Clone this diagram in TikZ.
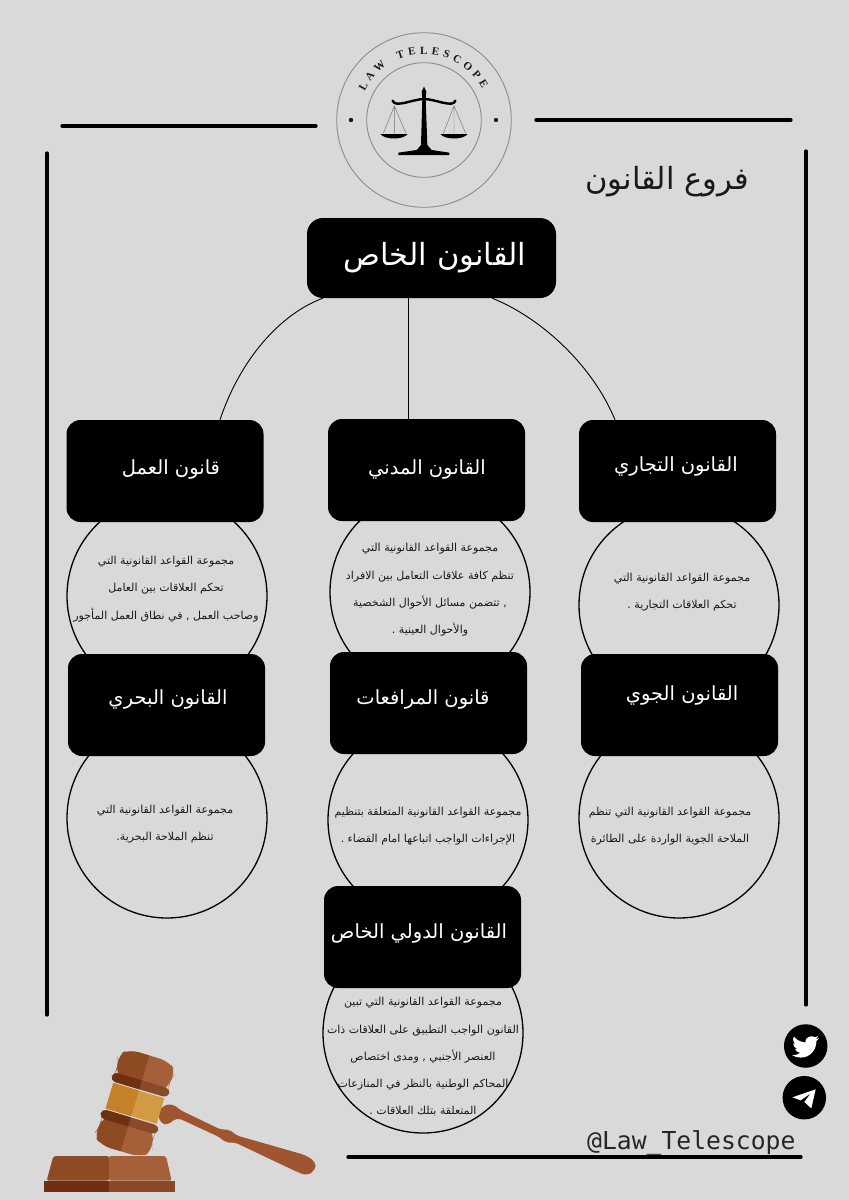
\documentclass[tikz,border=0pt]{standalone}
\usepackage{fontspec}
\usetikzlibrary{calc,decorations.text}
\TeXXeTstate=1
\newfontfamily\arabicfont[Script=Arabic]{DejaVu Sans}
\newfontfamily\handlefont{DejaVu Sans Mono}
\newfontfamily\logofont{Liberation Serif}
\newcommand{\ar}[1]{\beginR #1\endR}
\newcommand{\capshape}[1]{(-60,#1*150) -- (60,#1*150) -- (93,#1*125) -- (78,#1*95) -- (85,#1*65) -- (-85,#1*65) -- (-78,#1*95) -- (-93,#1*125) -- cycle}
\newcommand{\bandshape}[1]{(-90,#1*72) -- (90,#1*72) -- (90,#1*44) -- (-90,#1*44) -- cycle}
\definecolor{bgc}{HTML}{D9D9D9}
\definecolor{brA}{HTML}{8E4A22}
\definecolor{brB}{HTML}{A5603A}
\definecolor{brC}{HTML}{6F2F10}
\definecolor{brD}{HTML}{8A4A2A}
\definecolor{goA}{HTML}{C4812A}
\definecolor{goB}{HTML}{D29A42}
\definecolor{hnd}{HTML}{9E5530}
\tikzset{
  blackbox/.style={fill=black,rounded corners=14pt,minimum width=197pt,minimum height=102pt,inner sep=0pt},
  bubble/.style={circle,draw=black,line width=1.3pt,minimum size=200pt,inner sep=0pt},
  boxlabel/.style={text=white,inner sep=0pt,font=\arabicfont\fontsize{19.5}{22}\selectfont},
  bodytext/.style={text=black!90,inner sep=0pt,align=center,font=\arabicfont\fontsize{11}{27.3}\selectfont},
  rule/.style={line width=3.2pt,line cap=round,draw=black},
  branch/.style={line width=.9pt,draw=black}
}
\begin{document}
\begin{tikzpicture}[x=1pt,y=-1pt]
\useasboundingbox (0,0) rectangle (849,1200);
\fill[bgc] (0,0) rectangle (849,1200);
% frame
\coordinate (ltA) at (62,126); \coordinate (ltB) at (316,126);
\coordinate (rtA) at (536,120); \coordinate (rtB) at (791,120);
\coordinate (lvA) at (47,153); \coordinate (lvB) at (47,1015);
\coordinate (rvA) at (806,151); \coordinate (rvB) at (806,1005);
\coordinate (bhA) at (348,1157); \coordinate (bhB) at (801,1157);
\draw[rule] (ltA) -- (ltB);
\draw[rule] (rtA) -- (rtB);
\draw[rule] (lvA) -- (lvB);
\draw[rule] (rvA) -- (rvB);
\draw[rule] (bhA) -- (bhB);
% logo
\node[circle,draw=black!45,line width=.9pt,minimum size=174.6pt,inner sep=0pt] (logoouter) at (424,120) {};
\node[circle,draw=black!45,line width=.9pt,minimum size=114.6pt,inner sep=0pt] (logoinner) at (424,120) {};
\fill[black!90] (351,120) circle (2.2pt) (496,120) circle (2.2pt);
\path[decorate,decoration={text along path,text align={fit to path},
  text={|\logofont\bfseries\fontsize{11}{11}\selectfont\color{black!90}|LAW}}]
  (424,120) ++(154:66pt) arc[start angle=154,end angle=125,radius=66pt];
\path[decorate,decoration={text along path,text align={fit to path},
  text={|\logofont\bfseries\fontsize{11}{11}\selectfont\color{black!90}|TELESCOPE}}]
  (424,120) ++(113:66pt) arc[start angle=113,end angle=28,radius=66pt];
\begin{scope}[shift={(300,0)},scale=1/3]
  \fill[black] (372,260) -- (379,275) -- (377,295) -- (382,435) -- (395,450) -- (448,458) -- (448,465) -- (295,465) -- (295,458) -- (350,450) -- (363,435) -- (367,295) -- (365,275) -- cycle;
  \draw[black,line width=2.4pt] (278,302) .. controls (285,325) and (340,297) .. (372,297) .. controls (405,297) and (460,325) .. (466,302);
  \fill[black] (278,302) circle (3.4pt) (466,302) circle (3.4pt);
  \draw[black!55,line width=.45pt] (250,400) -- (283,318) -- (318,400) (283,318) -- (283,400) (430,400) -- (462,318) -- (497,400) (462,318) -- (462,400);
  \fill[black] (241,402) -- (323,402) .. controls (310,420) and (255,420) .. cycle;
  \fill[black] (421,402) -- (503,402) .. controls (490,420) and (435,420) .. cycle;
\end{scope}
% title
\node[inner sep=0pt,text=black!90,font=\arabicfont\fontsize{30.5}{34}\selectfont] (title) at (667,182) {\ar{فروع القانون}};
% circles
\node[bubble] (cLabor) at (167,596) {};
\node[bubble] (cCivil) at (430,592) {};
\node[bubble] (cComm) at (679,605) {};
\node[bubble] (cAir) at (679,818) {};
\node[bubble] (cSea) at (167,818) {};
\node[bubble] (cProc) at (428,820) {};
\node[bubble] (cIntl) at (423,1033) {};
% boxes
\node[blackbox,rounded corners=16pt,minimum width=249pt,minimum height=80pt] (top) at (431.5,258) {};
\node[blackbox] (labor) at (165,471) {};
\node[blackbox] (civil) at (426.5,470) {};
\node[blackbox] (comm) at (677.5,471) {};
\node[blackbox] (air) at (679.5,705) {};
\node[blackbox] (sea) at (166.5,705) {};
\node[blackbox] (proc) at (428.5,703) {};
\node[blackbox] (intl) at (422.5,937) {};
% branches
\draw[branch] ($(top.south west)+(16,0)$) .. controls ($(top.south west)+(-27,16)$) and ($(labor.north)+(75,-60)$) .. ($(labor.north)+(55,0)$);
\draw[branch] ($(top.south)+(-23.5,0)$) -- ($(civil.north)+(-18.5,0)$);
\draw[branch] ($(top.south east)+(-64,0)$) .. controls ($(top.south east)+(-21,17)$) and ($(comm.north)+(-87.5,-60)$) .. ($(comm.north)+(-62.5,0)$);
% box labels
\node[boxlabel,font=\arabicfont\fontsize{30.5}{34}\selectfont] (topL) at (435,258) {\ar{القانون الخاص}};
\node[boxlabel] (laborL) at (171,469.5) {\ar{قانون العمل}};
\node[boxlabel] (civilL) at (427,469.5) {\ar{القانون المدني}};
\node[boxlabel] (commL) at (676,466.5) {\ar{القانون التجاري}};
\node[boxlabel] (airL) at (682,695.5) {\ar{القانون الجوي}};
\node[boxlabel] (seaL) at (168,699.5) {\ar{القانون البحري}};
\node[boxlabel] (procL) at (423,699.5) {\ar{قانون المرافعات}};
\node[boxlabel] (intlL) at (419,933.5) {\ar{القانون الدولي الخاص}};
% texts
\node[bodytext] (tLabor) at (166,589) {\ar{مجموعة القواعد القانونية التي}\\\ar{تحكم العلاقات بين العامل}\\\ar{وصاحب العمل , في نطاق العمل المأجور}};
\node[bodytext] (tCivil) at (430,590) {\ar{مجموعة القواعد القانونية التي}\\\ar{تنظم كافة علاقات التعامل بين الافراد}\\\ar{, تتضمن مسائل الأحوال الشخصية}\\\ar{والأحوال العينية .}};
\node[bodytext] (tComm) at (682,592.5) {\ar{مجموعة القواعد القانونية التي}\\\ar{تحكم العلاقات التجارية .}};
\node[bodytext] (tAir) at (670,826) {\ar{مجموعة القواعد القانونية التي تنظم}\\\ar{الملاحة الجوية الواردة على الطائرة}};
\node[bodytext] (tSea) at (165,824.5) {\ar{مجموعة القواعد القانونية التي}\\\ar{تنظم الملاحة البحرية.}};
\node[bodytext] (tProc) at (428,826) {\ar{مجموعة القواعد القانونية المتعلقة بتنظيم}\\\ar{الإجراءات الواجب اتباعها امام القضاء .}};
\node[bodytext] (tIntl) at (423,1057) {\ar{مجموعة القواعد القانونية التي تبين}\\\ar{القانون الواجب التطبيق على العلاقات ذات}\\\ar{العنصر الأجنبي , ومدى اختصاص}\\\ar{المحاكم الوطنية بالنظر في المنازعات}\\\ar{المتعلقة بتلك العلاقات .}};
% social
\node[circle,fill=black,minimum size=43.5pt,inner sep=0pt] (twitter) at (805.7,1046) {};
\node[circle,fill=black,minimum size=43.5pt,inner sep=0pt] (telegram) at (804.3,1097.7) {};
\begin{scope}[shift={(792,1033)},scale=1.13]
\fill[white] (23.95,4.57) -- (21.13,5.35) -- (23.29,2.62) -- (20.16,3.8) .. controls (18,1.5) and (11,3.5) .. (11.78,8.29) .. controls (7.69,8.1) and (4.07,6.13) .. (1.64,3.16) -- (.97,5.64) .. controls (.97,7.35) and (1.84,8.85) .. (3.16,9.73) -- (.93,9.12) -- (.93,9.18) .. controls (.93,11.5) and (2.6,13.5) .. (4.88,14) -- (2.67,14.09) .. controls (3.3,16) and (5.1,17.4) .. (7.27,17.5) .. controls (5.6,18.8) and (3.5,19.6) .. (1.17,19.6) -- (0,19.54) .. controls (2.2,20.9) and (4.8,21.75) .. (7.56,21.75) .. controls (16.6,21.75) and (21.55,14.25) .. (21.55,7.76) -- (21.54,7.13) -- (24,4.59) -- cycle;
\end{scope}
\begin{scope}[shift={(570,1010)},scale=1/3]
\fill[white] (737,238) -- (667,262) -- (692,271) -- (722,250) -- (703,276) -- (724,295) -- cycle;
\end{scope}
% handle
\node[inner sep=0pt,anchor=base west,text=black!85,font=\handlefont\fontsize{24.7}{26}\selectfont] (handle) at (587,1149) {@Law\_Telescope};
% gavel
\begin{scope}[shift={(30,1030)},scale=1/3]
\fill[hnd,rounded corners=5pt] (385,250) -- (400,225) -- (430,222) -- (450,240) -- (575,300) -- (600,298) -- (615,315) -- (825,375) -- (857,395) -- (857,420) -- (830,437) -- (800,425) -- (610,335) -- (590,340) -- (570,322) -- (440,262) -- (415,285) -- (390,280) -- cycle;
% base
\fill[brA,rounded corners=2pt] (70,378) -- (237,378) -- (237,452) -- (50,452) -- cycle;
\fill[brB,rounded corners=2pt] (237,378) -- (408,378) -- (425,452) -- (237,452) -- cycle;
\fill[brC] (42,452) -- (237,452) -- (237,485) -- (42,485) -- cycle;
\fill[brD] (237,452) -- (435,452) -- (435,485) -- (237,485) -- cycle;
% head, in its own tilted axes
\begin{scope}[shift={(315,220)},x={(.957pt,-.287pt)},y={(-.287pt,-.957pt)}]
\fill[brB,rounded corners=9pt] \capshape{-1};
\fill[brB,rounded corners=9pt] \capshape{1};
\fill[goB] (-80,-40) -- (80,-40) -- (80,40) -- (-80,40) -- cycle;
\fill[brD,rounded corners=5pt] \bandshape{-1};
\fill[brD,rounded corners=5pt] \bandshape{1};
\begin{scope}
\clip (-200,-200) -- (0,-200) -- (0,200) -- (-200,200) -- cycle;
\fill[brA,rounded corners=9pt] \capshape{-1};
\fill[brA,rounded corners=9pt] \capshape{1};
\fill[goA] (-80,-40) -- (80,-40) -- (80,40) -- (-80,40) -- cycle;
\fill[brC,rounded corners=5pt] \bandshape{-1};
\fill[brC,rounded corners=5pt] \bandshape{1};
\end{scope}
\end{scope}
\end{scope}
\end{tikzpicture}
\end{document}
